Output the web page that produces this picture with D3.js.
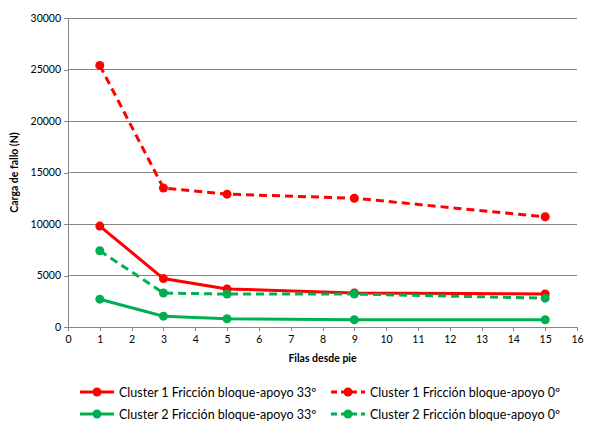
<!DOCTYPE html>
<html><head><meta charset="utf-8">
<script src="https://cdn.jsdelivr.net/npm/d3@7"></script>
<style>body{margin:0;background:#fff}svg{display:block}</style>
</head><body>
<svg id="c" width="593" height="434"></svg>
<script>
const filas = [1, 3, 5, 9, 15];
const c1_33 = [9800, 4700, 3700, 3300, 3200];
const c1_0 = [25400, 13500, 12900, 12500, 10700];
const c2_33 = [2700, 1050, 800, 700, 700];
const c2_0 = [7400, 3300, 3200, 3200, 2800];
const xTicks = d3.range(0, 17);
const yTicks = [0, 5000, 10000, 15000, 20000, 25000, 30000];
const seriesNames = ["Cluster 1 Fricción bloque-apoyo 33º", "Cluster 1 Fricción bloque-apoyo 0º",
  "Cluster 2 Fricción bloque-apoyo 33º", "Cluster 2 Fricción bloque-apoyo 0º"];

const RED = "#FF0000", GREEN = "#00B050";
const series = [
  {name: seriesNames[0], values: c1_33, color: RED, dash: null},
  {name: seriesNames[1], values: c1_0, color: RED, dash: "8,5"},
  {name: seriesNames[2], values: c2_33, color: GREEN, dash: null},
  {name: seriesNames[3], values: c2_0, color: GREEN, dash: "8,5"}
];

const svg = d3.select("#c");
const font = "Lato, 'Open Sans', sans-serif";
const L = 68, R = 577, T = 18, B = 327;
const x = d3.scaleLinear().domain([0, 16]).range([L, R]);
const y = d3.scaleLinear().domain([0, 30000]).range([B, T]);

// gridlines
svg.append("g").selectAll("line").data(yTicks.filter(d => d > 0)).join("line")
  .attr("x1", L).attr("x2", R).attr("y1", d => y(d)).attr("y2", d => y(d))
  .attr("stroke", "#868686").attr("stroke-width", 1).attr("shape-rendering", "crispEdges");

const yAxis = svg.append("g").attr("transform", `translate(${L},0)`)
  .call(d3.axisLeft(y).tickValues(yTicks).tickSize(4).tickPadding(3).tickFormat(d3.format("d")));
const xAxis = svg.append("g").attr("transform", `translate(0,${B})`)
  .call(d3.axisBottom(x).tickValues(xTicks).tickSize(4).tickPadding(5).tickFormat(d3.format("d")));
[yAxis, xAxis].forEach(a => {
  a.select(".domain").attr("stroke", "#868686").attr("shape-rendering", "crispEdges");
  a.selectAll(".tick line").attr("stroke", "#868686").attr("shape-rendering", "crispEdges");
  a.selectAll("text").attr("fill", "#000").style("font-family", font).style("font-size", "10.5px");
});

const line = d3.line().x((d, i) => x(filas[i])).y(d => y(d));
series.forEach(s => {
  svg.append("path").datum(s.values).attr("d", line)
    .attr("fill", "none").attr("stroke", s.color).attr("stroke-width", 3)
    .attr("stroke-dasharray", s.dash);
  svg.append("g").selectAll("circle").data(s.values).join("circle")
    .attr("cx", (d, i) => x(filas[i])).attr("cy", d => y(d)).attr("r", 4.5)
    .attr("fill", s.color);
});

// axis titles
svg.append("text").attr("x", (L + R) / 2).attr("y", 362).attr("text-anchor", "middle")
  .style("font-family", font).style("font-size", "10.5px").style("font-weight", "bold")
  .text("Filas desde pie");
svg.append("text").attr("transform", `translate(18,${(T + B) / 2}) rotate(-90)`)
  .attr("text-anchor", "middle")
  .style("font-family", font).style("font-size", "10.5px").style("font-weight", "bold")
  .text("Carga de fallo (N)");

// legend
const legPos = [[80, 392], [331, 392], [80, 414], [331, 414]];
series.forEach((s, i) => {
  const [lx, ly] = legPos[i];
  const g = svg.append("g").attr("transform", `translate(${lx},${ly})`);
  g.append("line").attr("x1", 0).attr("x2", 34).attr("y1", 0).attr("y2", 0)
    .attr("stroke", s.color).attr("stroke-width", 3).attr("stroke-dasharray", s.dash ? "6,4" : null);
  g.append("circle").attr("cx", 17).attr("cy", 0).attr("r", 4.5).attr("fill", s.color);
  g.append("text").attr("x", 39).attr("y", 4.5)
    .style("font-family", font).style("font-size", "12.5px").attr("fill", "#000")
    .text(s.name);
});
</script>
</body></html>
